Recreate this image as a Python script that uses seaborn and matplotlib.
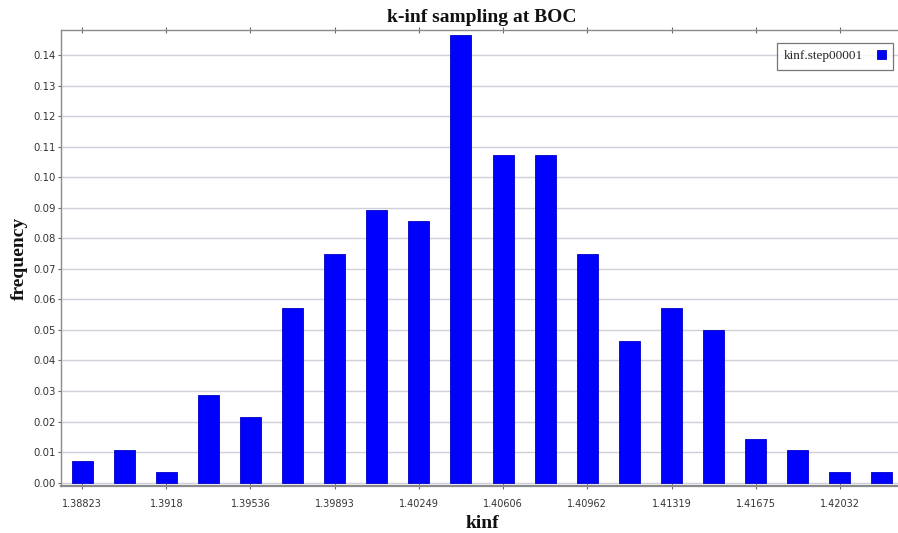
import matplotlib
matplotlib.use("Agg")
import matplotlib.pyplot as plt
import seaborn as sns
import pandas as pd
from matplotlib.patches import Patch

# Bin centres of the k-inf samples and their relative frequencies
kinf = [1.38823, 1.39001, 1.39180, 1.39358, 1.39536, 1.39714, 1.39893,
        1.40071, 1.40249, 1.40427, 1.40606, 1.40784, 1.40962, 1.41140,
        1.41319, 1.41497, 1.41675, 1.41853, 1.42032, 1.42210]
frequency = [0.00714, 0.01071, 0.00357, 0.02857, 0.02143, 0.05714, 0.07500,
             0.08929, 0.08571, 0.14643, 0.10714, 0.10714, 0.07500, 0.04643,
             0.05714, 0.05000, 0.01429, 0.01071, 0.00357, 0.00357]
series_name = "kinf.step00001"

x_tick_labels = ["1.38823", "1.3918", "1.39536", "1.39893", "1.40249",
                 "1.40606", "1.40962", "1.41319", "1.41675", "1.42032"]
y_ticks = [0.00, 0.01, 0.02, 0.03, 0.04, 0.05, 0.06, 0.07,
           0.08, 0.09, 0.10, 0.11, 0.12, 0.13, 0.14]

df = pd.DataFrame({"kinf": kinf, "frequency": frequency, "series": series_name})

sns.set_theme(style="white")
plt.rcParams["font.family"] = ["DejaVu Sans"]

W, H = 898, 533
fig = plt.figure(figsize=(W / 100, H / 100), dpi=100)
ax = fig.add_axes([61 / W, 1 - 486 / H, (903 - 61) / W, (486 - 30) / H])

sns.barplot(data=df, x="kinf", y="frequency", native_scale=True, width=0.5,
            color="#0000ff", edgecolor="#0000c8", linewidth=0.6,
            saturation=1, ax=ax, zorder=3)

half = (kinf[1] - kinf[0]) / 2
ax.set_xlim(kinf[0] - half, kinf[-1] + half)
ax.set_ylim(-0.0011, 0.1482)

ax.set_xticks(kinf[::2])
ax.set_xticklabels(x_tick_labels)
ax.set_yticks(y_ticks)
ax.set_yticklabels([f"{v:.2f}" for v in y_ticks])

ax.yaxis.grid(True, color="#cfd0da", linewidth=1.0, zorder=0)
ax.xaxis.grid(False)
ax.set_axisbelow(True)

for side in ("left", "bottom", "top"):
    ax.spines[side].set_color("#8a8a8a")
    ax.spines[side].set_linewidth(1.0)
ax.spines["bottom"].set_linewidth(1.6)
ax.spines["right"].set_visible(False)

ax.xaxis.set_ticks_position("both")
ax.tick_params(axis="x", which="major", direction="inout", length=5,
               width=0.8, color="#6a6a6a", labelsize=7,
               labelcolor="#333333", pad=7)
ax.tick_params(axis="y", left=True, direction="out", length=2.5, width=0.8,
               color="#6a6a6a", labelsize=7.3, labelcolor="#333333", pad=1)

serif_bold = dict(family="Liberation Serif", weight="bold", size=14, color="#111111")
ax.set_xlabel("kinf", labelpad=4, **serif_bold)
ax.set_ylabel("frequency", labelpad=4, **serif_bold)
ax.set_title("k-inf sampling at BOC", pad=6, **serif_bold)

handle = Patch(facecolor="#0000ff", edgecolor="#0000c8", linewidth=0.6)
leg = ax.legend([handle], [series_name], loc="upper right",
                bbox_to_anchor=(893 / W, 1 - 43 / H),
                bbox_transform=fig.transFigure, borderaxespad=0,
                markerfirst=False, frameon=True, fancybox=False,
                handlelength=0.7, handleheight=0.7, handletextpad=1.0,
                borderpad=0.55, prop=dict(family="Liberation Serif", size=9.5))
leg.get_frame().set_edgecolor("#555555")
leg.get_frame().set_linewidth(0.9)

fig.savefig("out.png", dpi=100)
